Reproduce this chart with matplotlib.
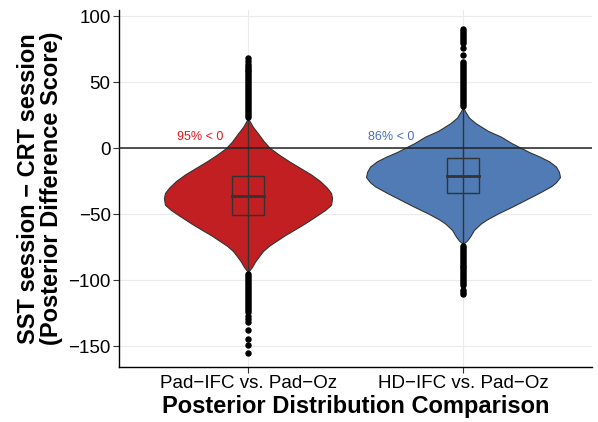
import matplotlib.pyplot as plt

plt.rcParams['font.family'] = ['Liberation Sans', 'DejaVu Sans']

# categories and labels
groups = ["Pad\u2212IFC vs. Pad\u2212Oz", "HD\u2212IFC vs. Pad\u2212Oz"]
colors = ["#C11F22", "#507BB5"]
pct_labels = ["95% < 0", "86% < 0"]
pct_colors = ["#E8141C", "#4A6EB8"]

# violin outlines: y value and half width (x units)
red_y = [22.5, 20, 16, 11, 5, 0, -5, -10, -15, -20, -25, -30, -34, -38,
         -43, -47, -52, -57, -62, -66, -70, -74, -78, -82, -86, -90, -94]
red_w = [0, .009, .023, .047, .074, .102, .144, .191, .242, .293, .335, .367,
         .386, .391, .386, .358, .312, .265, .214, .172, .135, .098, .07,
         .051, .033, .019, 0]
blue_y = [31.3, 28, 23, 18.7, 13, 8.6, 4, 0.5, -3, -6.6, -10, -14, -18, -22,
          -26, -29, -34, -39, -44, -49.5, -54, -57, -62, -67, -70, -72.7]
blue_w = [0, .009, .028, .06, .116, .177, .223, .265, .307, .358, .4, .432,
          .446, .451, .432, .409, .353, .293, .233, .163, .112, .084, .051,
          .033, .019, 0]

# box stats: whisker low, q1, median, q3, whisker high
red_box = [-94, -50.8, -36.1, -21.2, 22.5]
blue_box = [-72.7, -33.8, -21.2, -7.8, 31.3]

# outliers
red_out = [23.5, 25, 26.5, 28, 29.5, 31, 32.5, 34, 35.5, 37, 38.5, 40, 41.5,
           43, 44.5, 46, 47.5, 49, 50.5, 52, 53.5, 55, 56.5, 58, 59.5, 61,
           62.5, 64, 65.8, 68.6,
           -95.5, -97, -98.5, -100, -101.5, -103, -104.5, -106, -107.5, -109,
           -110.5, -112, -113.5, -115, -116.5, -118, -119.5, -121, -122.5,
           -124.5, -127, -129.5, -131.5, -138, -145, -149, -155]
blue_out = [32, 33.5, 35, 36.5, 38, 39.5, 41, 42.5, 44, 45.5, 47, 48.5, 50,
            51.5, 53, 54.5, 56, 57.5, 59, 60.5, 62, 63.5, 65.4, 70.5, 75.5,
            79.5, 81, 82.5, 84, 85.5, 87, 88.5, 90.5,
            -74, -75.5, -77, -78.5, -80, -81.5, -83, -84.5, -86, -87.5, -89,
            -90.5, -92, -93.5, -95, -96.5, -98, -99.5, -101, -102.5, -104,
            -107.5, -109, -110.5]

yticks = [100, 50, 0, -50, -100, -150]

fig = plt.figure(figsize=(5.98, 4.22), dpi=100)
ax = fig.add_axes([0.199, 0.130, 0.791, 0.846])

profiles = [(red_y, red_w), (blue_y, blue_w)]
boxes = [red_box, blue_box]
outs = [red_out, blue_out]
dark = "#333333"

for i in range(2):
    pos = i + 1
    ys, ws = profiles[i]
    xl = [pos - w for w in ws]
    xr = [pos + w for w in ws]
    ax.fill_betweenx(ys, xl, xr, facecolor=colors[i], edgecolor=dark,
                     linewidth=0.8, zorder=2)
    lo, q1, med, q3, hi = boxes[i]
    ax.plot([pos, pos], [lo, hi], color=dark, lw=1.0, zorder=3)
    bw = 0.075
    ax.add_patch(plt.Rectangle((pos - bw, q1), 2 * bw, q3 - q1,
                               facecolor='none', edgecolor=dark, lw=1.0,
                               zorder=4))
    ax.plot([pos - bw, pos + bw], [med, med], color=dark, lw=2.0, zorder=4)
    ax.plot([pos] * len(outs[i]), outs[i], 'o', color='black', ms=3.6,
            mec='black', zorder=5)

ax.axhline(0, color="#222222", lw=1.1, zorder=3)

ax.text(0.779, 8.6, pct_labels[0], color=pct_colors[0], fontsize=9,
        ha='center', va='center')
ax.text(1.665, 8.6, pct_labels[1], color=pct_colors[1], fontsize=9,
        ha='center', va='center')

ax.set_xlim(0.4, 2.6)
ax.set_ylim(-166, 104.5)
ax.set_xticks([1, 2])
ax.set_xticklabels(groups, fontsize=13.5)
ax.set_yticks(yticks)
ax.set_yticklabels([str(t).replace('-', '\u2212') for t in yticks],
                   fontsize=13.5)
ax.tick_params(length=4, width=0.8, color=dark, colors='black', pad=2)
ax.grid(True, color="#EBEBEB", lw=0.8, zorder=0)
ax.set_axisbelow(True)
for s in ['top', 'right']:
    ax.spines[s].set_visible(False)
for s in ['left', 'bottom']:
    ax.spines[s].set_linewidth(1.0)
    ax.spines[s].set_color('black')

ax.set_xlabel("Posterior Distribution Comparison", fontsize=17,
              fontweight='bold', labelpad=2)
ax.set_ylabel("SST session \u2212 CRT session\n(Posterior Difference Score)",
              fontsize=17, fontweight='bold', linespacing=1.0, labelpad=4)

fig.savefig("out.png", dpi=100)
